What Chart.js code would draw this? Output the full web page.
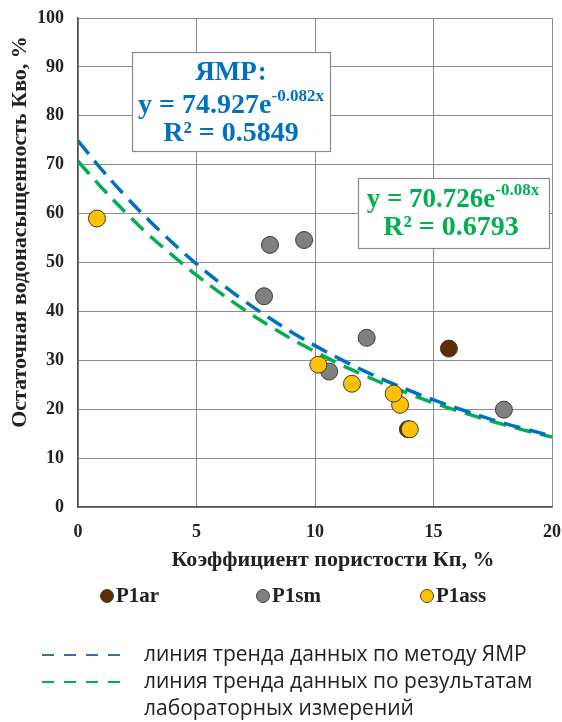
<!DOCTYPE html>
<html>
<head>
<meta charset="utf-8">
<script src="https://cdn.jsdelivr.net/npm/chart.js@4"></script>
<style>
  body { margin: 0; background: #fff; }
  #wrap { width: 562px; height: 722px; }
</style>
</head>
<body>
<div id="wrap"><canvas id="chart" width="562" height="722"></canvas></div>
<script>
// measured points, Kp (%) vs Kvo (%)
const p1arX = [13.92, 15.65];
const p1arY = [15.9, 32.4];
const p1smX = [7.85, 8.1, 9.54, 10.6, 12.18, 17.97];
const p1smY = [43.1, 53.6, 54.6, 27.7, 34.6, 19.9];
const p1assX = [0.8, 10.14, 11.56, 13.59, 13.32, 14.0];
const p1assY = [59.0, 29.1, 25.2, 20.9, 23.2, 15.9];

// trend lines at each unit of Kp
const trendX = [0, 1, 2, 3, 4, 5, 6, 7, 8, 9, 10, 11, 12, 13, 14, 15, 16, 17, 18, 19, 20];
const nmrTrend = [74.9, 69.0, 63.6, 58.6, 54.0, 49.7, 45.8, 42.2, 38.9, 35.8, 33.0, 30.4, 28.0, 25.8, 23.8, 21.9, 20.2, 18.6, 17.1, 15.8, 14.5];
const labTrend = [70.7, 65.3, 60.3, 55.6, 51.4, 47.4, 43.8, 40.4, 37.3, 34.4, 31.8, 29.3, 27.1, 25.0, 23.1, 21.3, 19.7, 18.2, 16.8, 15.5, 14.3];

const xTitle = "Коэффициент пористости Кп, %";
const yTitle = "Остаточная водонасыщенность Кво, %";

function pts(xs, ys) {
  return xs.map((x, i) => ({ x: x, y: ys[i] }));
}

const serif = "'Liberation Serif', 'Times New Roman', serif";
const BLUE = "#0070C0";
const GREEN = "#00B050";

// writes "y = ...e" + superscript, centred on cx
function eqLine(ctx, base, sup, cx, cy, size, supSize, color) {
  ctx.font = "bold " + size + "px " + serif;
  const w1 = ctx.measureText(base).width;
  ctx.font = "bold " + supSize + "px " + serif;
  const w2 = ctx.measureText(sup).width;
  let x = cx - (w1 + w2) / 2;
  ctx.fillStyle = color;
  ctx.textAlign = "left";
  ctx.textBaseline = "middle";
  ctx.font = "bold " + size + "px " + serif;
  ctx.fillText(base, x, cy);
  ctx.font = "bold " + supSize + "px " + serif;
  ctx.fillText(sup, x + w1, cy - size * 0.33);
}

function centerText(ctx, txt, cx, cy, font, color) {
  ctx.font = font;
  ctx.fillStyle = color;
  ctx.textAlign = "center";
  ctx.textBaseline = "middle";
  ctx.fillText(txt, cx, cy);
}

const extras = {
  id: "extras",
  afterDraw(chart) {
    const ctx = chart.ctx;
    const bf = s => "bold " + s + "px " + serif;
    ctx.save();

    // tick labels, serif bold like the original
    const xs = chart.scales.x, ys = chart.scales.y;
    ctx.font = bf(18);
    ctx.fillStyle = "#222";
    ctx.textBaseline = "middle";
    ctx.textAlign = "center";
    xs.ticks.forEach(t => ctx.fillText(String(t.value), xs.getPixelForValue(t.value), 532));
    ctx.textAlign = "right";
    ys.ticks.forEach(t => ctx.fillText(String(t.value), 64, ys.getPixelForValue(t.value)));

    // equation boxes
    ctx.fillStyle = "#fff";
    ctx.strokeStyle = "#8a8a8a";
    ctx.lineWidth = 1.2;
    ctx.fillRect(132, 52, 198, 99);
    ctx.strokeRect(132.5, 52.5, 198, 99);
    centerText(ctx, "ЯМР:", 231, 73, bf(27), BLUE);
    eqLine(ctx, "y = 74.927e", "-0.082x", 231, 106, 28, 17, BLUE);
    centerText(ctx, "R² = 0.5849", 231, 134, bf(28), BLUE);

    ctx.fillStyle = "#fff";
    ctx.fillRect(358, 178, 191, 70);
    ctx.strokeRect(358.5, 178.5, 191, 70);
    eqLine(ctx, "y = 70.726e", "-0.08x", 453, 200, 27, 17, GREEN);
    centerText(ctx, "R² = 0.6793", 451, 228, bf(28), GREEN);

    // axis titles
    centerText(ctx, xTitle, 333, 560, bf(22), "#222");
    ctx.save();
    ctx.translate(20, 232);
    ctx.rotate(-Math.PI / 2);
    centerText(ctx, yTitle, 0, 0, bf(22), "#222");
    ctx.restore();

    // marker legend
    const items = [["P1ar", "#5C2E00", 107], ["P1sm", "#808080", 263], ["P1ass", "#FFC000", 427]];
    items.forEach(it => {
      ctx.beginPath();
      ctx.arc(it[2], 596, 6.5, 0, Math.PI * 2);
      ctx.fillStyle = it[1];
      ctx.fill();
      ctx.strokeStyle = "#444";
      ctx.lineWidth = 1;
      ctx.stroke();
      ctx.font = bf(21);
      ctx.fillStyle = "#222";
      ctx.textAlign = "left";
      ctx.textBaseline = "middle";
      ctx.fillText(it[0], it[2] + 9, 597);
    });

    // trend legend
    const lines = [["#3E6BAA", "линия тренда данных по методу ЯМР", 655], [GREEN, "линия тренда данных по результатам", 682]];
    ctx.font = "21px 'Open Sans'";
    lines.forEach(l => {
      ctx.beginPath();
      ctx.setLineDash([12, 10]);
      ctx.strokeStyle = l[0];
      ctx.lineWidth = 2.2;
      ctx.moveTo(42, l[2]);
      ctx.lineTo(124, l[2]);
      ctx.stroke();
      ctx.setLineDash([]);
      ctx.fillStyle = "#222";
      ctx.textAlign = "left";
      ctx.textBaseline = "middle";
      ctx.fillText(l[1], 144, l[2]);
    });
    ctx.fillText("лабораторных измерений", 144, 709);

    ctx.restore();
  }
};

function scatterSet(label, data, color, order) {
  return {
    type: "scatter",
    label: label,
    data: data,
    backgroundColor: color,
    borderColor: "#3a3a3a",
    borderWidth: 1,
    pointRadius: 8.5,
    order: order
  };
}

function trendSet(label, data, color, order) {
  return {
    type: "line",
    label: label,
    data: data,
    borderColor: color,
    borderWidth: 3.5,
    borderDash: [17, 9],
    pointRadius: 0,
    fill: false,
    tension: 0.4,
    order: order
  };
}

// library labels kept for layout only, drawn again in serif by the plugin
const tickFont = { size: 18, weight: "bold" };

new Chart(document.getElementById("chart"), {
  type: "scatter",
  data: {
    datasets: [
      scatterSet("P1ar", pts(p1arX, p1arY), "#5C2E00", 3),
      scatterSet("P1sm", pts(p1smX, p1smY), "#808080", 2),
      scatterSet("P1ass", pts(p1assX, p1assY), "#FFC000", 1),
      trendSet("ЯМР", pts(trendX, nmrTrend), BLUE, 4),
      trendSet("лаб", pts(trendX, labTrend), GREEN, 5)
    ]
  },
  options: {
    responsive: false,
    animation: false,
    layout: { padding: { left: 0, top: 18, right: 10, bottom: 0 } },
    scales: {
      x: {
        type: "linear",
        min: 0,
        max: 20,
        afterFit: s => { s.height = 215; s.paddingLeft = 0; s.paddingRight = 0; },
        ticks: { stepSize: 5, padding: 15, color: "rgba(0,0,0,0)", font: tickFont },
        grid: { color: "#8c8c8c", lineWidth: 1, drawTicks: false },
        border: { color: "#555", width: 1.5 }
      },
      y: {
        min: 0,
        max: 100,
        afterFit: s => { s.width = 78; s.paddingTop = 0; s.paddingBottom = 0; },
        ticks: { stepSize: 10, padding: 14, color: "rgba(0,0,0,0)", font: tickFont },
        grid: { color: "#8c8c8c", lineWidth: 1, drawTicks: false },
        border: { color: "#555", width: 1.5 }
      }
    },
    plugins: {
      legend: { display: false },
      tooltip: { enabled: false }
    }
  },
  plugins: [extras]
});
</script>
</body>
</html>
